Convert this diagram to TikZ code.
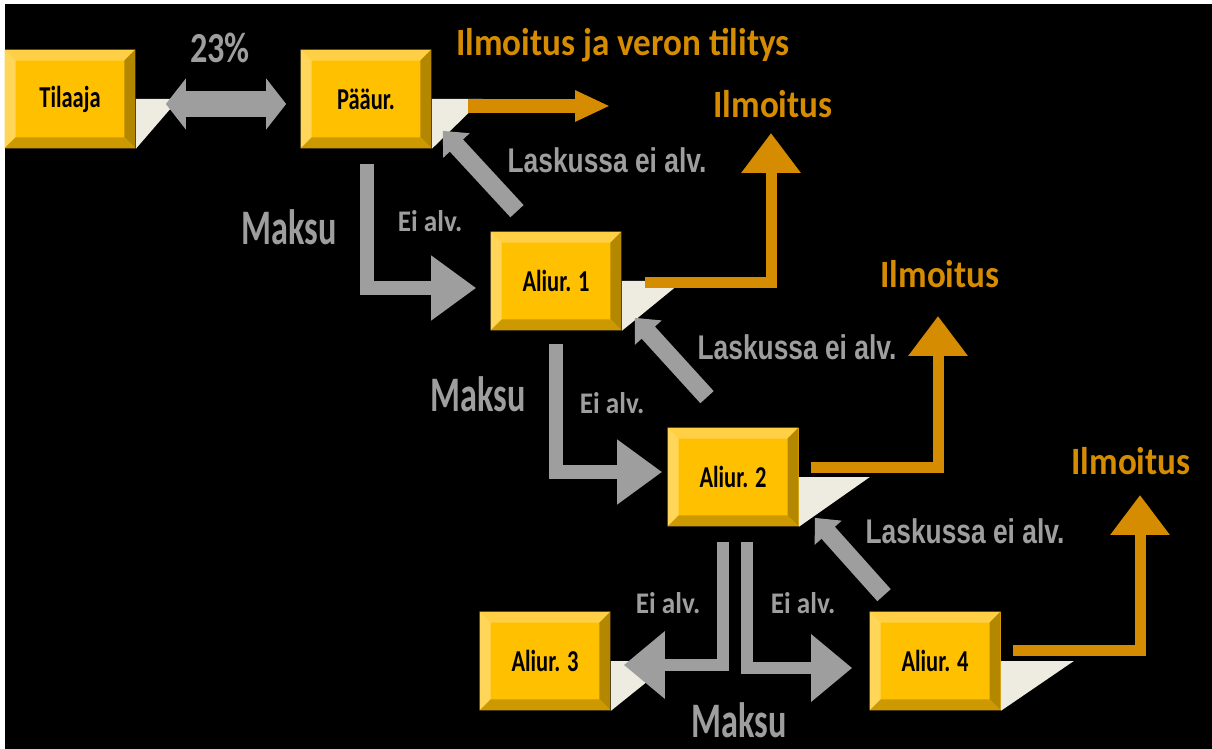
\documentclass[tikz,border=0pt]{standalone}
\usepackage{fontspec}
\setmainfont{Carlito}
\newfontfamily\arialfont{Liberation Sans}
\usepackage{graphicx}
\usepackage{xcolor}
\usetikzlibrary{arrows.meta,calc}

\definecolor{boxface}{RGB}{255,192,0}
\definecolor{boxlight}{RGB}{255,214,90}
\definecolor{boxtop}{RGB}{255,208,70}
\definecolor{boxdark}{RGB}{180,135,0}
\definecolor{boxbottom}{RGB}{204,153,0}
\definecolor{shadowc}{RGB}{238,236,225}
\definecolor{grayc}{RGB}{158,158,158}
\definecolor{orangec}{RGB}{214,140,0}

\newcommand{\vstr}[2]{\scalebox{1}[#1]{#2}}

\tikzset{
	boxnode/.style={inner sep=0pt, minimum width=2.62cm, minimum height=1.98cm, fill=boxface,
		font=\bfseries\fontsize{12.8}{14}\selectfont,
		path picture={
			\fill[boxtop] (path picture bounding box.north west) -- (path picture bounding box.north east) -- ++(-11,11) -- ($(path picture bounding box.north west)+(11,11)$) -- cycle;
			\fill[boxlight] (path picture bounding box.north west) -- ++(11,11) -- ($(path picture bounding box.south west)+(11,-11)$) -- (path picture bounding box.south west) -- cycle;
			\fill[boxdark] (path picture bounding box.north east) -- ++(-11,11) -- ($(path picture bounding box.south east)+(-11,-11)$) -- (path picture bounding box.south east) -- cycle;
			\fill[boxbottom] (path picture bounding box.south west) -- ++(11,-11) -- ($(path picture bounding box.south east)+(-11,-11)$) -- (path picture bounding box.south east) -- cycle;
		}},
	boxshadow/.style={fill=shadowc},
	orangetxt/.style={text=orangec, font=\bfseries\fontsize{20}{22}\selectfont},
	graytxt/.style={text=grayc, font=\bfseries\fontsize{19.5}{22}\selectfont},
	eitxt/.style={text=grayc, font=\bfseries\fontsize{15.5}{17}\selectfont},
	lasktxt/.style={text=grayc, font=\arialfont\bfseries\fontsize{15}{17}\selectfont},
	orangeelbow/.style={draw=orangec, line width=0.22cm, -{Triangle[width=1.14cm,length=0.8cm]}},
	orangeflow/.style={draw=orangec, line width=0.28cm, -{Triangle[width=0.58cm,length=0.7cm]}},
	grayelbow/.style={draw=grayc, line width=0.28cm, -{Triangle[width=1.24cm,length=0.9cm]}},
	graysplit/.style={draw=grayc, line width=0.24cm, -{Triangle[width=1.3cm,length=0.82cm]}},
	graydiag/.style={draw=grayc, line width=0.36cm, -{Triangle[width=0.7cm,length=0.4cm]}},
	graydouble/.style={draw=grayc, line width=0.52cm, {Triangle[width=1.0cm,length=0.4cm]}-{Triangle[width=1.0cm,length=0.4cm]}}
}

\begin{document}
\begin{tikzpicture}[x=0.02cm,y=-0.02cm]
	% Page and background
	\useasboundingbox (0,0) rectangle (1212,749);
	\fill[white] (0,0) rectangle (1212,749);
	\fill[black] (5,4) rectangle (1212,749);

	% Boxes
	\node[boxnode] (t) at (70,99) {\vstr{1.35}{Tilaaja}}; %orderer
	\node[boxnode] (p) at (366,99) {\vstr{1.35}{Pääur.}}; %main contractor
	\node[boxnode] (a1) at (556,281) {\vstr{1.35}{Aliur. 1}};
	\node[boxnode] (a2) at (733,477) {\vstr{1.35}{Aliur. 2}};
	\node[boxnode] (a3) at (545,661) {\vstr{1.35}{Aliur. 3}};
	\node[boxnode] (a4) at (935,661) {\vstr{1.35}{Aliur. 4}};

	% Shadows
	\foreach \b/\e in {t/43,p/51,a1/61,a2/71,a3/62,a4/73}
		\fill[boxshadow] (\b.east) -- ++(\e,0) -- (\b.south east) -- cycle;

	% Labels
	\node[graytxt] (pct) at (220,48) {\vstr{1.25}{23\%}};
	\node[orangetxt] (ilm0) at (623,45) {\vstr{1.1}{Ilmoitus ja veron tilitys}};
	\node[orangetxt] (ilm1) at (773,104) {\vstr{1.1}{Ilmoitus}};
	\node[orangetxt] (ilm2) at (940,274) {\vstr{1.1}{Ilmoitus}};
	\node[orangetxt] (ilm3) at (1131,461) {\vstr{1.1}{Ilmoitus}};
	\node[lasktxt] (lask1) at (607,160) {\vstr{1.3}{Laskussa ei alv.}};
	\node[lasktxt] (lask2) at (797,347) {\vstr{1.3}{Laskussa ei alv.}};
	\node[lasktxt] (lask3) at (965,531) {\vstr{1.3}{Laskussa ei alv.}};
	\node[graytxt] (maks1) at (289,227) {\vstr{1.45}{Maksu}};
	\node[graytxt] (maks2) at (478,394) {\vstr{1.45}{Maksu}};
	\node[graytxt] (maks3) at (739,720) {\vstr{1.45}{Maksu}};
	\node[eitxt] (ei1) at (430,221) {\vstr{1.1}{Ei alv.}};
	\node[eitxt] (ei2) at (612,403) {\vstr{1.1}{Ei alv.}};
	\node[eitxt] (ei3) at (668,603) {\vstr{1.1}{Ei alv.}};
	\node[eitxt] (ei4) at (803,603) {\vstr{1.1}{Ei alv.}};
	\coordinate (tilit) at (610,106); %free end

	% Drawing everything
	\draw[graydouble] ($(t.east)+(30,5)$) -- ($(p.west)+(-14,5)$);
	\draw[orangeflow] ($(p.east)+(36,7)$) -- (tilit);
	\draw[grayelbow] ($(p.south)+(1,15)$) |- ($(a1.west)+(-14,7)$);
	\draw[grayelbow] ($(a1.south)+(0,13)$) |- ($(a2.west)+(-5,-5)$);
	\draw[graysplit] ($(a2.south)+(-10,15)$) |- ($(a3.east)+(13,4)$);
	\draw[graysplit] ($(a2.south)+(14,15)$) |- ($(a4.west)+(-17,7)$);
	\draw[graydiag] ($(a1.north)+(-39,-20)$) -- ($(p.south east)+(11,-18)$);
	\draw[graydiag] ($(a2.north)+(-26,-30)$) -- ($(a1.south east)+(13,-13)$);
	\draw[graydiag] ($(a4.north)+(-51,-16)$) -- ($(a2.south east)+(16,-9)$);
	\draw[orangeelbow] ($(a1.east)+(23,2)$) -| ($(ilm1.center)+(-2,29)$);
	\draw[orangeelbow] ($(a2.east)+(12,-10)$) -| ($(ilm2.center)+(-2,42)$);
	\draw[orangeelbow] ($(a4.east)+(12,-11)$) -| ($(ilm3.center)+(9,34)$);
\end{tikzpicture}
\end{document}
